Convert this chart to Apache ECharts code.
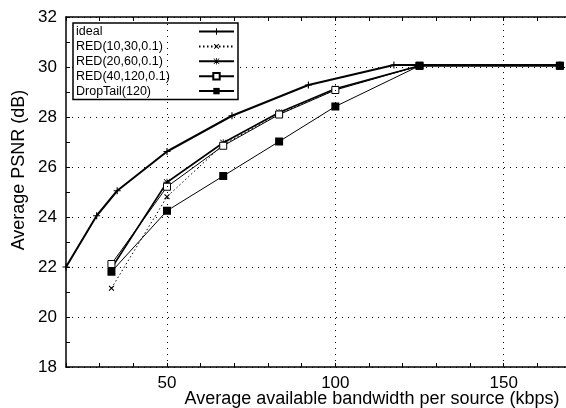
<!DOCTYPE html>
<html>
<head>
<meta charset="utf-8">
<script src="https://cdn.jsdelivr.net/npm/echarts@6/dist/echarts.min.js"></script>
<style>html,body{margin:0;padding:0;background:#fff}#c{width:566px;height:408px}</style>
</head>
<body>
<div id="c"></div>
<script>
// ---- data ----
const idealX = [20, 29.1, 35.2, 50, 69.3, 92, 117.4, 166.7];
const idealY = [22.0, 24.05, 25.05, 26.62, 28.05, 29.28, 30.08, 30.08];
const bwX = [33.5, 50, 66.7, 83.3, 100, 125, 166.7];
const red10Y = [21.15, 24.81, 26.9, 28.12, 29.1, 30.05, 30.05];
const red20Y = [21.95, 25.39, 26.97, 28.18, 29.13, 30.05, 30.05];
const red40Y = [22.12, 25.21, 26.85, 28.1, 29.08, 30.05, 30.05];
const dropY = [21.81, 24.25, 25.64, 27.02, 28.42, 30.05, 30.05];
const seriesNames = ['ideal', 'RED(10,30,0.1)', 'RED(20,60,0.1)', 'RED(40,120,0.1)', 'DropTail(120)'];
const xGridTicks = [50, 100, 150];
const xLabelTicks = [50, 100, 150];

const zip = (xs, ys) => xs.map((x, i) => [x, ys[i]]);
const FONT = 'Liberation Sans';
const plusPath = 'path://M4.2,0H5.8V4.2H10V5.8H5.8V10H4.2V5.8H0V4.2H4.2Z';
const starPath = 'path://M4.4,0H5.6V10H4.4Z M0,4.4H10V5.6H0Z M1.2,0.4L9.6,8.8L8.8,9.6L0.4,1.2Z M8.8,0.4L9.6,1.2L1.2,9.6L0.4,8.8Z';

const chart = echarts.init(document.getElementById('c'), null, {renderer: 'canvas'});
chart.setOption({
  animation: false,
  backgroundColor: '#fff',
  grid: {left: 66, top: 17, width: 505, height: 350, outerBoundsMode: 'none', containLabel: false},
  legend: {
    orient: 'vertical', left: 73, top: 23, align: 'right',
    padding: [2, 3, 2, 3], itemGap: 1.9, itemWidth: 35, itemHeight: 8,
    borderColor: '#000', borderWidth: 1.5, backgroundColor: '#fff',
    data: seriesNames,
    formatter: n => '{t|' + n + '}',
    textStyle: {fontFamily: FONT, fontSize: 12.5, color: '#000',
      rich: {t: {fontFamily: FONT, fontSize: 12.5, color: '#000', width: 118, align: 'left'}}}
  },
  xAxis: [{
    type: 'value', min: 20, max: 170, interval: 10, position: 'bottom',
    axisLine: {lineStyle: {color: '#000', width: 1.5}},
    axisTick: {inside: true, length: 4, lineStyle: {color: '#000', width: 1}},
    axisLabel: {fontFamily: FONT, fontSize: 17, color: '#000', margin: 8,
      formatter: v => (xLabelTicks.indexOf(v) >= 0 ? String(v) : '')},
    splitLine: {show: false},
    name: 'Average available bandwidth per source (kbps)',
    nameLocation: 'middle', nameGap: 23, nameMoveOverlap: false,
    nameTextStyle: {fontFamily: FONT, fontSize: 18, color: '#000', padding: [0, 0, 0, 107]}
  }, {
    type: 'value', min: 20, max: 170, interval: 10, position: 'top',
    axisLine: {lineStyle: {color: '#000', width: 1.5}},
    axisTick: {inside: true, length: 4, lineStyle: {color: '#000', width: 1}},
    axisLabel: {show: false}, splitLine: {show: false}
  }],
  yAxis: [{
    type: 'value', min: 18, max: 32, interval: 2,
    axisLine: {lineStyle: {color: '#000', width: 1.5}},
    axisTick: {inside: true, length: 4, lineStyle: {color: '#000', width: 1}},
    minorTick: {show: true, splitNumber: 2, length: 4, lineStyle: {color: '#000', width: 1}},
    axisLabel: {fontFamily: FONT, fontSize: 17, color: '#000', margin: 9},
    splitLine: {show: true, lineStyle: {color: '#000', width: 1, type: [1, 5]}},
    name: 'Average PSNR (dB)', nameLocation: 'middle', nameGap: 38, nameMoveOverlap: false,
    nameTextStyle: {fontFamily: FONT, fontSize: 18, color: '#000', padding: [0, 0, 0, 44]}
  }],
  series: [
    {name: seriesNames[0], type: 'line', data: zip(idealX, idealY), z: 5,
     symbol: plusPath, symbolSize: 7, itemStyle: {color: '#000', borderWidth: 0},
     lineStyle: {color: '#000', width: 2},
     markLine: {silent: true, symbol: 'none', label: {show: false}, animation: false,
       lineStyle: {color: '#000', width: 1, type: [1, 5]},
       data: xGridTicks.map(v => ({xAxis: v}))}},
    {name: seriesNames[1], type: 'line', data: zip(bwX, red10Y), z: 4,
     symbol: plusPath, symbolRotate: 45, symbolSize: 7, itemStyle: {color: '#000', borderWidth: 0},
     lineStyle: {color: '#000', width: 1, type: [1.5, 2.5]}},
    {name: seriesNames[2], type: 'line', data: zip(bwX, red20Y), z: 4,
     symbol: starPath, symbolSize: 7, itemStyle: {color: '#000', borderWidth: 0},
     lineStyle: {color: '#000', width: 1.6}},
    {name: seriesNames[3], type: 'line', data: zip(bwX, red40Y), z: 4,
     symbol: 'rect', symbolSize: 7, itemStyle: {color: '#fff', borderColor: '#000', borderWidth: 1},
     lineStyle: {color: '#000', width: 1}},
    {name: seriesNames[4], type: 'line', data: zip(bwX, dropY), z: 4,
     symbol: 'rect', symbolSize: 8, itemStyle: {color: '#000', borderWidth: 0},
     lineStyle: {color: '#000', width: 1}}
  ]
});
</script>
</body>
</html>
